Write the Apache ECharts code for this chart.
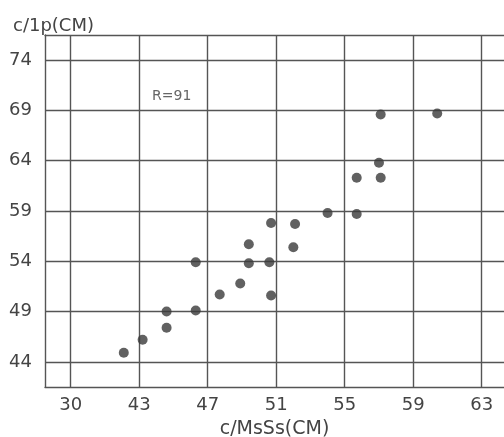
<!DOCTYPE html>
<html>
<head>
<meta charset="utf-8">
<script src="https://cdn.jsdelivr.net/npm/echarts@6/dist/echarts.min.js"></script>
<style>html,body{margin:0;padding:0;background:#fff;}#c{width:504px;height:437px;}</style>
</head>
<body>
<div id="c"></div>
<script>
// x values are plotted on the chart's (broken) axis scale; tick at 39 is labelled "30"
const xValues = [42.1, 43.2, 44.6, 44.6, 46.3, 46.3, 47.7, 48.9, 49.4, 49.4, 50.6, 50.7, 50.7, 52.1, 52.0, 54.0, 55.7, 55.7, 57.0, 57.1, 57.1, 60.4];
const yValues = [44.9, 46.2, 49.0, 47.4, 53.9, 49.1, 50.7, 51.8, 55.7, 53.8, 53.9, 50.6, 57.8, 57.7, 55.4, 58.8, 62.3, 58.7, 63.8, 62.3, 68.6, 68.7];
const xTickValues = [39, 43, 47, 51, 55, 59, 63];
const xTickLabels = ['30', '43', '47', '51', '55', '59', '63'];
const yTickValues = [44, 49, 54, 59, 64, 69, 74];
const yTickLabels = ['44', '49', '54', '59', '64', '69', '74'];
const annotation = 'R=91';

const points = xValues.map((x, i) => [x, yValues[i]]);
const chart = echarts.init(document.getElementById('c'));
const ff = '"DejaVu Sans", sans-serif';
const lineStyle = { color: '#555', width: 1.4 };
chart.setOption({
  animation: false,
  backgroundColor: '#fff',
  grid: { left: 45, top: 35, bottom: 50, right: 0, containLabel: false, outerBoundsMode: 'none' },
  xAxis: [{
    type: 'value', min: 37.5, max: 64.3,
    axisLine: { show: true, onZero: false, lineStyle: lineStyle },
    axisTick: { show: false, customValues: xTickValues },
    splitLine: { show: true, lineStyle: lineStyle },
    axisLabel: {
      customValues: xTickValues,
      formatter: v => xTickLabels[xTickValues.indexOf(v)],
      color: '#444', fontSize: 18, fontFamily: ff, margin: 9
    },
    name: 'c/MsSs(CM)', nameLocation: 'middle', nameGap: 33,
    nameTextStyle: { color: '#444', fontSize: 19, fontFamily: ff }
  }, {
    type: 'value', position: 'top', min: 37.5, max: 64.3,
    axisLine: { show: true, onZero: false, lineStyle: lineStyle },
    axisTick: { show: false }, axisLabel: { show: false }, splitLine: { show: false }
  }],
  yAxis: {
    type: 'value', min: 41.5, max: 76.5,
    axisLine: { show: true, onZero: false, lineStyle: lineStyle },
    axisTick: { show: false, customValues: yTickValues },
    splitLine: { show: true, lineStyle: lineStyle },
    axisLabel: {
      customValues: yTickValues,
      formatter: v => yTickLabels[yTickValues.indexOf(v)],
      color: '#444', fontSize: 18, fontFamily: ff, margin: 13
    },
    name: 'c/1p(CM)', nameLocation: 'end', nameGap: 0,
    nameTextStyle: { color: '#444', fontSize: 18, fontFamily: ff, align: 'left', padding: [0, 0, 0, -32] }
  },
  series: [{
    type: 'scatter',
    data: points,
    symbolSize: 10,
    itemStyle: { color: '#3a3a3a' },
    markPoint: {
      symbol: 'rect', symbolSize: 1,
      itemStyle: { color: 'rgba(0,0,0,0)' },
      label: { show: true, formatter: annotation, color: '#666', fontSize: 14, fontFamily: ff, position: 'inside' },
      data: [{ coord: [44.9, 70.4] }]
    }
  }]
});
</script>
</body>
</html>
